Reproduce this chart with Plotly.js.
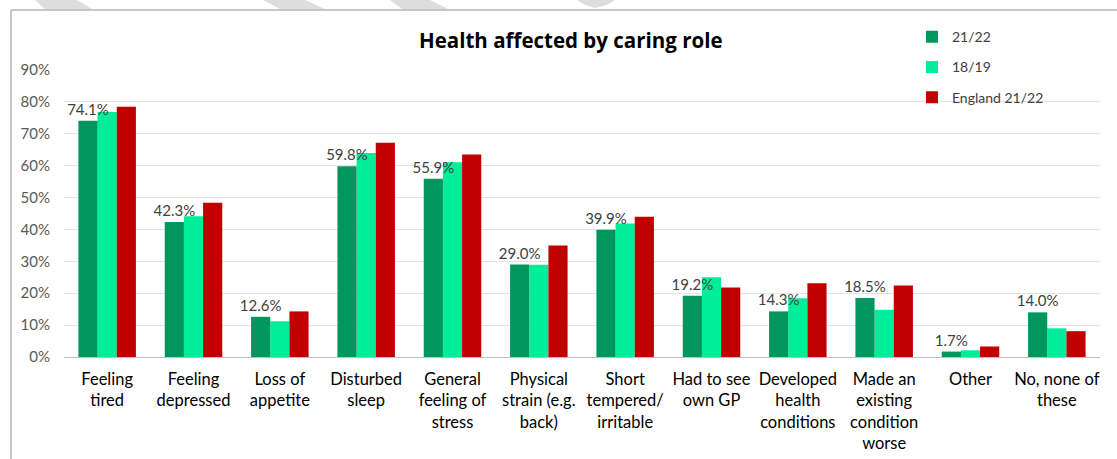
<!DOCTYPE html>
<html>
<head>
<meta charset="utf-8">
<script src="https://cdn.plot.ly/plotly-3.0.1.min.js"></script>
<style>html,body{margin:0;padding:0;background:#fff;}#chart{width:1117px;height:459px;}</style>
</head>
<body>
<div id="chart"></div>
<script>
const categories = [
  "Feeling<br>tired",
  "Feeling<br>depressed",
  "Loss of<br>appetite",
  "Disturbed<br>sleep",
  "General<br>feeling of<br>stress",
  "Physical<br>strain (e.g.<br>back)",
  "Short<br>tempered/<br>irritable",
  "Had to see<br>own GP",
  "Developed<br>health<br>conditions",
  "Made an<br>existing<br>condition<br>worse",
  "Other",
  "No, none of<br>these"
];
const seriesNames = ["21/22", "18/19", "England 21/22"];
const values2122 = [74.1, 42.3, 12.6, 59.8, 55.9, 29.0, 39.9, 19.2, 14.3, 18.5, 1.7, 14.0];
const values1819 = [76.8, 44.1, 11.2, 64.0, 61.1, 28.9, 41.9, 25.0, 18.4, 14.8, 2.1, 9.0];
const valuesEngland = [78.5, 48.4, 14.3, 67.2, 63.5, 35.0, 44.0, 21.8, 23.1, 22.4, 3.3, 8.1];
const yTickVals = [0, 10, 20, 30, 40, 50, 60, 70, 80, 90];
const yTickText = yTickVals.map(v => v + "%");

const FONT = "Lato, Carlito, 'Open Sans', sans-serif";
const TITLEFONT = "'Open Sans', Lato, sans-serif";
const colors = ["#00965E", "#00EE9A", "#C00000"];
const BW = 0.222; // bar width in category units

// 21/22 is drawn last so its labels sit on top of neighbouring bars
const traces = [
  {
    type: "bar", name: seriesNames[1], x: categories, y: values1819,
    marker: {color: colors[1]}, width: BW, offset: -BW / 2,
    legendgroup: "g2", legendrank: 2, hoverinfo: "x+y"
  },
  {
    type: "bar", name: seriesNames[2], x: categories, y: valuesEngland,
    marker: {color: colors[2]}, width: BW, offset: BW / 2,
    legendgroup: "g3", legendrank: 3, hoverinfo: "x+y"
  },
  {
    type: "bar", name: seriesNames[0], x: categories, y: values2122,
    marker: {color: colors[0]}, width: BW, offset: -1.5 * BW,
    legendgroup: "g1", legendrank: 1,
    texttemplate: "%{y:.1f}%", textposition: "outside", cliponaxis: false,
    constraintext: "none",
    textfont: {family: FONT, size: 15, color: "#404040"},
    hoverinfo: "x+y"
  }
];

const stripe = "#dddddd";
const layout = {
  width: 1117, height: 459,
  paper_bgcolor: "#ffffff", plot_bgcolor: "#ffffff",
  margin: {l: 64, r: 17, t: 70, b: 102, pad: 0},
  font: {family: FONT, color: "#595959", size: 14},
  title: {
    text: "<b>Health affected by caring role</b>",
    font: {family: TITLEFONT, size: 20.5, color: "#000000"},
    x: 0.511, xref: "container", xanchor: "center",
    y: 0.912, yref: "container", yanchor: "middle"
  },
  barmode: "overlay",
  showlegend: true,
  legend: {
    x: 0.8185, xanchor: "left", y: 1.17, yanchor: "top",
    orientation: "v", traceorder: "grouped", tracegroupgap: 9,
    font: {family: FONT, size: 14, color: "#404040"},
    bgcolor: "rgba(0,0,0,0)"
  },
  xaxis: {
    type: "category", showgrid: false, showline: true,
    linecolor: "#bfbfbf", linewidth: 1, ticks: "",
    tickfont: {family: FONT, size: 16.5, color: "#000000"},
    tickangle: 0, ticklabelstandoff: 7
  },
  yaxis: {
    range: [0, 90], tickmode: "array", tickvals: yTickVals, ticktext: yTickText,
    showgrid: true, gridcolor: "#e3e3e3", gridwidth: 1,
    zeroline: false, showline: false, ticks: "",
    tickfont: {family: FONT, size: 15, color: "#595959"},
    ticklabelstandoff: 13
  },
  shapes: [
    {type: "path", xref: "paper", yref: "paper", layer: "below",
     path: "M -0.0280,1.2439 L 0.01255,1.2439 L 0.0270,1.2125 L -0.01834,1.2125 Z",
     fillcolor: stripe, line: {width: 0}},
    {type: "path", xref: "paper", yref: "paper", layer: "below",
     path: "M 0.1921,1.2439 L 0.2326,1.2439 L 0.2519,1.2125 L 0.2085,1.2125 Z",
     fillcolor: stripe, line: {width: 0}},
    {type: "path", xref: "paper", yref: "paper", layer: "below",
     path: "M 0.3147,1.2439 L 0.3533,1.2439 L 0.3707,1.2125 L 0.3263,1.2125 Z",
     fillcolor: stripe, line: {width: 0}},
    {type: "path", xref: "paper", yref: "paper", layer: "below",
     path: "M 0.4952,1.2439 L 0.5319,1.2439 L 0.5241,1.2265 L 0.5125,1.2160 L 0.5029,1.2265 Z",
     fillcolor: stripe, line: {width: 0}},
    {type: "line", xref: "paper", yref: "paper",
     x0: -0.0512, x1: 1.02, y0: 1.2091, y1: 1.2091,
     line: {color: "#b4b4b4", width: 1.5}},
    {type: "line", xref: "paper", yref: "paper",
     x0: -0.0512, x1: -0.0512, y0: 1.2091, y1: -0.36,
     line: {color: "#b4b4b4", width: 1.5}}
  ]
};

Plotly.newPlot("chart", traces, layout, {displayModeBar: false});
</script>
</body>
</html>
